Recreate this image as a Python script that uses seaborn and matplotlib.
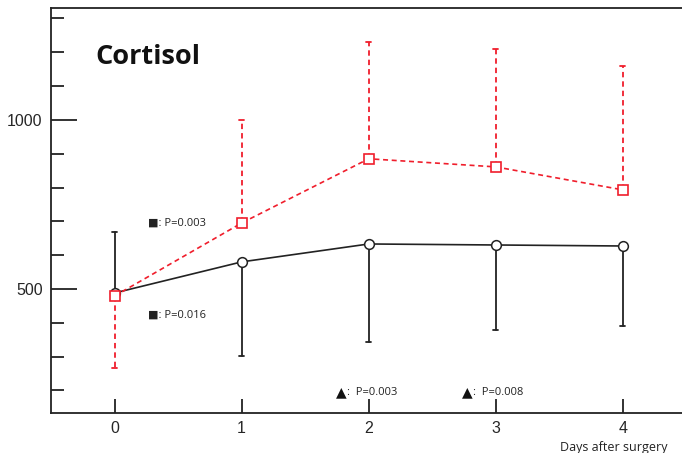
import matplotlib
matplotlib.use("Agg")
import matplotlib.pyplot as plt
import seaborn as sns
import pandas as pd
from matplotlib.ticker import MultipleLocator

sns.set_theme(style="white")
plt.rcParams["font.family"] = ["Liberation Sans", "DejaVu Sans"]

days = [0, 1, 2, 3, 4]
# control group (black, solid)
ctrl_mean = [488, 580, 633, 630, 627]
ctrl_upper = [669, None, None, None, None]
ctrl_lower = [None, 302, 343, 379, 391]
# treated group (red, dashed)
trt_mean = [479, 695, 885, 861, 793]
trt_upper = [None, 1000, 1231, 1210, 1160]
trt_lower = [266, None, None, None, None]

pvals_square = ["P=0.003", "P=0.016"]
pvals_triangle = ["P=0.003", "P=0.008"]

RED = "#f01e2c"
INK = "#222222"

fig = plt.figure(figsize=(6.82, 4.53), dpi=100)
ax = fig.add_axes([51 / 682, 1 - 413 / 453, 1 - 51 / 682, (413 - 8) / 453])

df = pd.DataFrame({
    "day": days * 2,
    "value": ctrl_mean + trt_mean,
    "group": ["ctrl"] * 5 + ["trt"] * 5,
})

# one-sided error whiskers with small caps
for d, m, u, l in zip(days, ctrl_mean, ctrl_upper, ctrl_lower):
    for end in (u, l):
        if end is not None:
            ax.plot([d, d], [m, end], color=INK, lw=1.3, zorder=1)
            ax.plot([d - 0.02, d + 0.02], [end, end], color=INK, lw=1.3, zorder=1)
for d, m, u, l in zip(days, trt_mean, trt_upper, trt_lower):
    for end in (u, l):
        if end is not None:
            ax.plot([d, d], [m, end], color=RED, lw=1.3, dashes=(3, 2.2), zorder=1)
            ax.plot([d - 0.02, d + 0.02], [end, end], color=RED, lw=1.3, zorder=1)

sns.lineplot(data=df[df.group == "ctrl"], x="day", y="value", ax=ax, color=INK,
             lw=1.2, marker="o", markersize=7, markerfacecolor="white",
             markeredgecolor=INK, markeredgewidth=1.1, zorder=3)
sns.lineplot(data=df[df.group == "trt"], x="day", y="value", ax=ax, color=RED,
             lw=1.2, marker="s", markersize=7, markerfacecolor="white",
             markeredgecolor=RED, markeredgewidth=1.2, zorder=4)
ax.lines[-1].set_dashes((3, 2.2))

ax.set_xlim(-0.5, 4.465)
ax.set_ylim(133, 1331)
ax.set_xticks(days)
ax.set_xticklabels([str(d) for d in days])
ax.yaxis.set_major_locator(MultipleLocator(500))
ax.yaxis.set_minor_locator(MultipleLocator(100))
ax.tick_params(axis="y", which="major", direction="in", length=19, width=1.3,
               color=INK, labelsize=11.5, pad=6, left=True)
ax.tick_params(axis="y", which="minor", direction="in", length=9, width=1.3,
               color=INK, left=True)
ax.tick_params(axis="x", which="major", direction="in", length=10, width=1.3,
               color=INK, labelsize=11.5, pad=6, bottom=True)
ax.set_xlabel("")
ax.set_ylabel("")
for side in ("left", "top", "bottom"):
    ax.spines[side].set_color(INK)
    ax.spines[side].set_linewidth(1.3)
ax.spines["right"].set_visible(False)
if ax.get_legend():
    ax.get_legend().remove()

fig.text(95 / 682, 1 - 57 / 453, "Cortisol", fontsize=19.5, fontweight="bold",
         family=["Open Sans", "DejaVu Sans"], va="center", ha="left", color="#111111")

small = dict(fontsize=8, family=["Open Sans", "DejaVu Sans"], va="center",
             ha="left", color=INK)
ax.text(0.26, 696, "\u25a0: " + pvals_square[0], **small)
ax.text(0.26, 423, "\u25a0: " + pvals_square[1], **small)
tri = dict(fontsize=10, family=["DejaVu Sans"], va="center", ha="left", color="#111111")
ax.text(1.74, 193, "\u25b2", **tri)
ax.text(2.73, 193, "\u25b2", **tri)
ax.text(1.83, 193, ":  " + pvals_triangle[0], **small)
ax.text(2.82, 193, ":  " + pvals_triangle[1], **small)

fig.text(560 / 682, 1 - 447 / 453, "Days after surgery", fontsize=9,
         family=["Open Sans", "DejaVu Sans"], va="center", ha="left", color=INK)

fig.savefig("out.png", dpi=100)
